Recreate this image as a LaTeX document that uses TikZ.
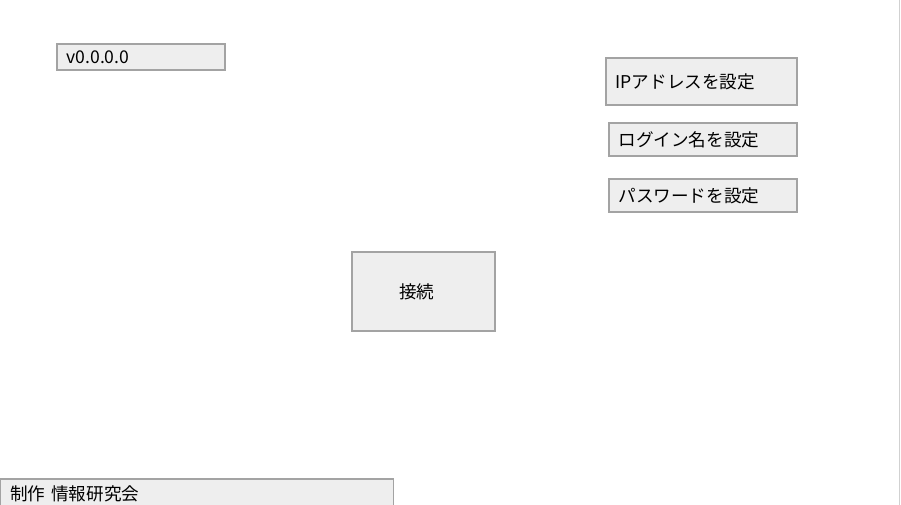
\documentclass[tikz,border=0pt]{standalone}
\usepackage{fontspec}
\setmainfont{Noto Sans CJK JP}
\definecolor{btnfill}{HTML}{EEEEEE}
\definecolor{btnline}{HTML}{A3A3A3}
\tikzset{every picture/.style={/utils/exec={\fontsize{17.6}{20}\selectfont}}}
\tikzset{button/.style={draw=btnline, fill=btnfill, line width=1.4pt, anchor=north west, outer sep=0pt, inner xsep=9.5pt, inner ysep=0pt, align=left}}

\begin{document}
\begin{tikzpicture}[x=1pt,y=-1pt]
    \useasboundingbox (0,0) rectangle (901,505);
    \node [button, text width=149pt, minimum height=26pt] (version) at (57,44) {v0.0.0.0};
    \node [button, text width=172pt, minimum height=47pt] (ipbtn) at (606,58) {IPアドレスを設定};
    \node [button, text width=169pt, minimum height=33pt] (loginbtn) at (609,123) {ログイン名を設定};
    \node [button, text width=169pt, minimum height=33pt] (passbtn) at (609,179) {パスワードを設定};
    \node [button, inner xsep=47pt, text width=49pt, minimum height=79pt] (connect) at (352,252) {接続};
    \node [button, text width=374pt, minimum height=30pt] (credit) at (0.75,479) {制作 情報研究会};
    \draw [btnline!50, line width=1pt] (899.5,0) -- (899.5,505);
\end{tikzpicture}
\end{document}
